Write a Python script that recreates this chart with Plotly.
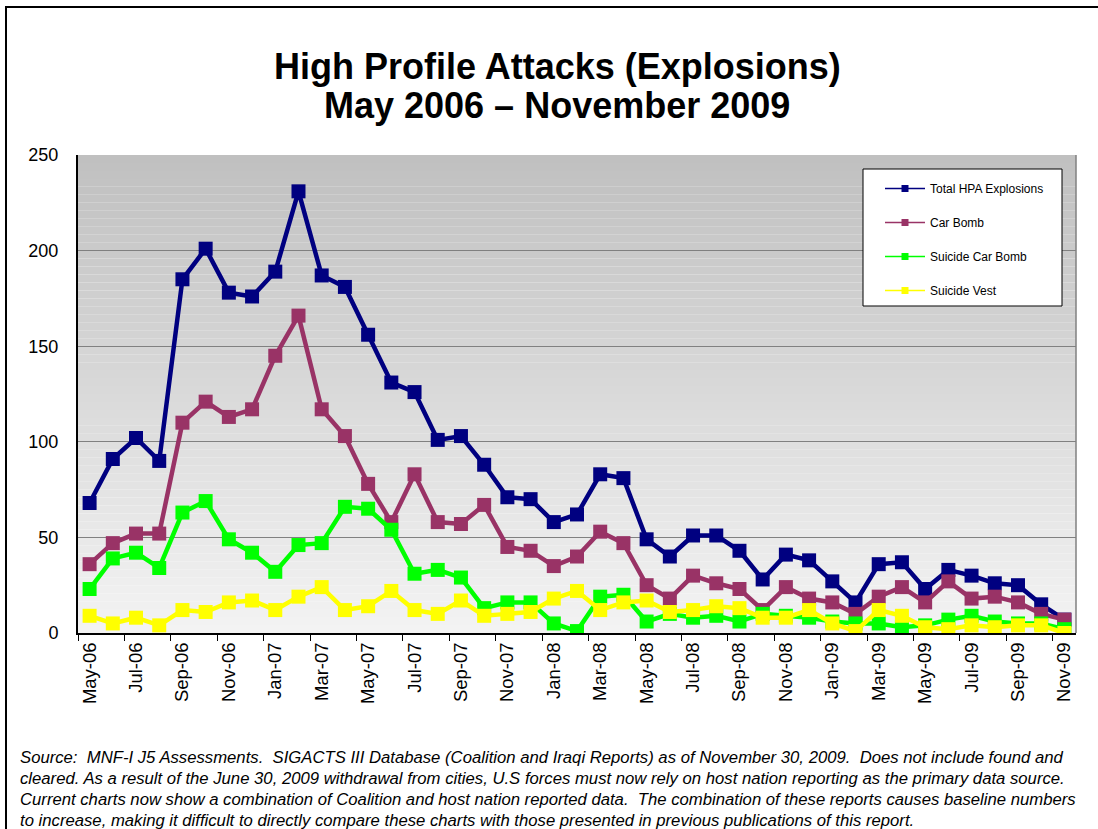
import plotly.graph_objects as go

months = ["May-06","Jun-06","Jul-06","Aug-06","Sep-06","Oct-06","Nov-06","Dec-06",
          "Jan-07","Feb-07","Mar-07","Apr-07","May-07","Jun-07","Jul-07","Aug-07",
          "Sep-07","Oct-07","Nov-07","Dec-07","Jan-08","Feb-08","Mar-08","Apr-08",
          "May-08","Jun-08","Jul-08","Aug-08","Sep-08","Oct-08","Nov-08","Dec-08",
          "Jan-09","Feb-09","Mar-09","Apr-09","May-09","Jun-09","Jul-09","Aug-09",
          "Sep-09","Oct-09","Nov-09"]

total_hpa = [68,91,102,90,185,201,178,176,189,231,187,181,156,131,126,101,103,88,71,70,
             58,62,83,81,49,40,51,51,43,28,41,38,27,16,36,37,23,33,30,26,25,15,7]
car_bomb = [36,47,52,52,110,121,113,117,145,166,117,103,78,58,83,58,57,67,45,43,
            35,40,53,47,25,18,30,26,23,12,24,18,16,10,19,24,16,27,18,19,16,10,7]
suicide_car_bomb = [23,39,42,34,63,69,49,42,32,46,47,66,65,54,31,33,29,13,16,16,
                    5,1,19,20,6,10,8,9,6,10,9,8,6,5,5,3,4,7,9,6,5,5,2]
suicide_vest = [9,5,8,4,12,11,16,17,12,19,24,12,14,22,12,10,17,9,10,11,
                18,22,12,16,17,11,12,14,13,8,8,12,5,1,12,9,3,2,4,3,4,4,0]

series = [
    ("Total HPA Explosions", total_hpa, "#000080"),
    ("Car Bomb", car_bomb, "#993366"),
    ("Suicide Car Bomb", suicide_car_bomb, "#00FF00"),
    ("Suicide Vest", suicide_vest, "#FFFF00"),
]

source_lines = [
    "Source:  MNF-I J5 Assessments.  SIGACTS III Database (Coalition and Iraqi Reports) as of November 30, 2009.  Does not include found and",
    "cleared. As a result of the June 30, 2009 withdrawal from cities, U.S forces must now rely on host nation reporting as the primary data source.",
    "Current charts now show a combination of Coalition and host nation reported data.  The combination of these reports causes baseline numbers",
    "to increase, making it difficult to directly compare these charts with those presented in previous publications of this report.",
]

FONT = "Arial, 'Liberation Sans', sans-serif"
W, H = 1098, 829
L, R, T, B = 78, 1076, 155, 633
pw, ph = R - L, B - T

def px_x(x):
    return (x - L) / pw

def px_y(y):
    return (B - y) / ph

fig = go.Figure()

for name, vals, col in series:
    fig.add_trace(go.Scatter(
        x=months, y=vals, mode="lines+markers", name=name, showlegend=False,
        line=dict(color=col, width=4.5),
        marker=dict(symbol="square", size=14, color=col),
    ))
for i, (name, vals, col) in enumerate(series):
    fig.add_trace(go.Scatter(
        x=[None], y=[None], mode="lines+markers", name=name, legendgroup=f"g{i}",
        line=dict(color=col, width=1.5),
        marker=dict(symbol="square", size=7, color=col),
    ))

# gradient background of the plot area
shapes = []
n = 60
top_c, bot_c = (192, 192, 192), (243, 243, 243)
for i in range(n):
    f = i / (n - 1)
    c = tuple(round(top_c[k] + (bot_c[k] - top_c[k]) * f) for k in range(3))
    shapes.append(dict(type="rect", xref="x domain", yref="y domain",
                       x0=0, x1=1, y0=1 - (i + 1) / n, y1=1 - i / n,
                       fillcolor=f"rgb{c}", line=dict(width=0), layer="below"))
# right border of plot area
shapes.append(dict(type="line", xref="x domain", yref="y domain",
                   x0=1, x1=1, y0=0, y1=1, line=dict(color="#808080", width=1.5)))
# legend box
shapes.append(dict(type="rect", xref="paper", yref="paper",
                   x0=px_x(863), x1=px_x(1062), y0=px_y(306), y1=px_y(169),
                   fillcolor="white", line=dict(color="black", width=1), layer="above"))
# outer frame
shapes.append(dict(type="rect", xref="paper", yref="paper",
                   x0=px_x(6), x1=px_x(1110), y0=px_y(840), y1=px_y(7),
                   line=dict(color="black", width=2), fillcolor="rgba(0,0,0,0)"))

annotations = [
    dict(text="<b>High Profile Attacks (Explosions)</b>",
         xref="paper", yref="paper", x=px_x(557), y=px_y(67),
         xanchor="center", yanchor="middle", showarrow=False,
         font=dict(size=36, family=FONT)),
    dict(text="<b>May 2006 – November 2009</b>",
         xref="paper", yref="paper", x=px_x(557), y=px_y(105),
         xanchor="center", yanchor="middle", showarrow=False,
         font=dict(size=36, family=FONT)),
]
for i, line in enumerate(source_lines):
    annotations.append(dict(
        text=f"<i>{line}</i>", xref="paper", yref="paper",
        x=px_x(18), y=px_y(758 + i * 20.7),
        xanchor="left", yanchor="middle", align="left", showarrow=False,
        font=dict(size=16.7, family=FONT)))

fig.update_layout(
    width=W, height=H,
    margin=dict(l=L, r=W - R, t=T, b=H - B),
    paper_bgcolor="white", plot_bgcolor="rgba(0,0,0,0)",
    font=dict(family=FONT, color="black"),
    shapes=shapes,
    showlegend=True,
    legend=dict(x=px_x(880), y=px_y(174), xanchor="left", yanchor="top",
                bgcolor="rgba(0,0,0,0)", borderwidth=0,
                font=dict(size=12, family=FONT), traceorder="grouped",
                tracegroupgap=15, itemwidth=40),
    xaxis=dict(type="category", tickmode="linear", tick0=0, dtick=2,
               tickson="boundaries", ticks="outside", ticklen=6, tickcolor="black",
               tickangle=-90, tickfont=dict(size=18.5),
               showline=True, linecolor="black", linewidth=2,
               showgrid=False, range=[-0.5, 42.5]),
    yaxis=dict(range=[0, 250], tickvals=[0, 50, 100, 150, 200, 250],
               tickfont=dict(size=18), showgrid=True, gridcolor="#808080", gridwidth=1,
               showline=True, linecolor="black", linewidth=2, ticks="",
               ticklabelstandoff=14, zeroline=False),
    annotations=annotations,
)

fig.write_html("out.html", config={"displayModeBar": False},
               post_script="document.body.style.margin='0px';")
